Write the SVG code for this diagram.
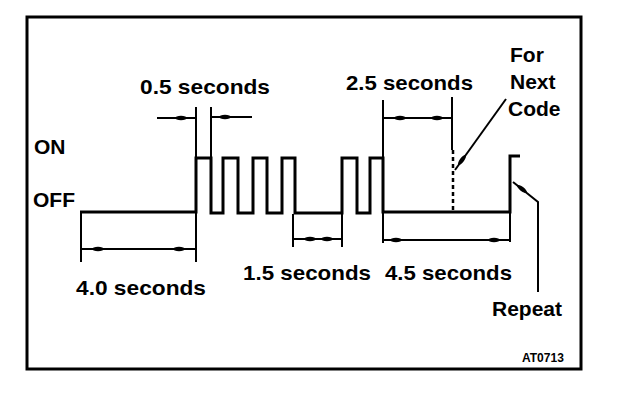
<svg xmlns="http://www.w3.org/2000/svg" width="624" height="406" viewBox="0 0 624 406">
<style>
.t{font-family:"Liberation Sans",Arial,sans-serif;font-weight:bold;font-size:21px;fill:#000}
.s{font-family:"Liberation Sans",Arial,sans-serif;font-weight:bold;font-size:12px;fill:#000}
.w{fill:none;stroke:#000;stroke-width:3;stroke-linejoin:miter}
.d{fill:none;stroke:#000;stroke-width:2}
.dash{fill:none;stroke:#000;stroke-width:2.5;stroke-dasharray:4,3}
</style>
<defs>
<ellipse id="blob" cx="0" cy="0" rx="6" ry="2.2" fill="#000"/>
</defs>
<rect x="27" y="17" width="554" height="352" fill="#fff" stroke="#000" stroke-width="3"/>
<g id="labels">
<text class="t" x="34" y="154">ON</text>
<text class="t" x="33" y="207">OFF</text>
</g>
<g id="waveform">
<path class="w" d="M80,212 H196 V158 H211 V213 H223 V158 H238 V213 H253 V158 H267 V213 H282 V158 H295 V213 H342 V158 H357 V213 H370 V158 H383 V212 H510 V156 H520"/>
</g>
<g id="dim-0.5">
<path class="d" d="M196,107 V262 M211,107 V158 M157,118 H195 M212,117 H252"/>
<use href="#blob" x="181" y="118"/>
<use href="#blob" x="225" y="117"/>
<text class="t" x="140" y="94" textLength="130" lengthAdjust="spacingAndGlyphs">0.5 seconds</text>
</g>
<g id="dim-4.0">
<path class="d" d="M81,212 V262 M81,249 H196"/>
<use href="#blob" x="98" y="249"/>
<use href="#blob" x="179" y="249"/>
<text class="t" x="76" y="295" textLength="130" lengthAdjust="spacingAndGlyphs">4.0 seconds</text>
</g>
<g id="dim-1.5">
<path class="d" d="M293,214 V247 M342,214 V247 M293,239 H342"/>
<use href="#blob" x="310" y="239"/>
<use href="#blob" x="327" y="239"/>
<text class="t" x="243" y="280" textLength="128" lengthAdjust="spacingAndGlyphs">1.5 seconds</text>
</g>
<g id="dim-2.5">
<path class="d" d="M383,100 V243 M452,97 V150 M383,118 H452"/>
<path class="dash" d="M453,150 V212"/>
<use href="#blob" x="400" y="118"/>
<use href="#blob" x="437" y="118"/>
<text class="t" x="346" y="90" textLength="127" lengthAdjust="spacingAndGlyphs">2.5 seconds</text>
</g>
<g id="dim-4.5">
<path class="d" d="M510,156 V242 M383,240 H510"/>
<use href="#blob" x="396" y="240"/>
<use href="#blob" x="494" y="240"/>
<text class="t" x="385" y="280" textLength="127" lengthAdjust="spacingAndGlyphs">4.5 seconds</text>
</g>
<g id="next-code">
<path class="d" d="M506,99 L455,170"/>
<use href="#blob" transform="translate(462,160) rotate(-54)"/>
<text class="t" x="510" y="62">For</text>
<text class="t" x="510" y="89">Next</text>
<text class="t" x="508" y="116">Code</text>
</g>
<g id="repeat">
<path class="d" d="M513,182 L538,202 V292"/>
<use href="#blob" transform="translate(522,189) rotate(38)"/>
<text class="t" x="492" y="316">Repeat</text>
</g>
<g id="ref">
<text class="s" x="522" y="362">AT0713</text>
</g>
</svg>
